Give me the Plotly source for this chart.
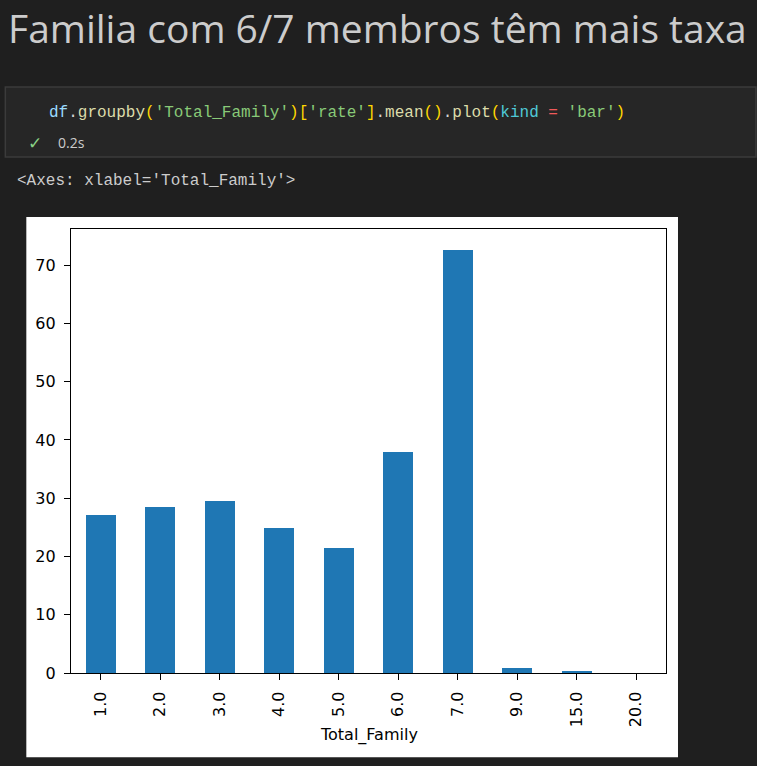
import plotly.graph_objects as go

# ---- data ----
categories = ["1.0", "2.0", "3.0", "4.0", "5.0", "6.0", "7.0", "9.0", "15.0", "20.0"]
rate_mean = [27.1, 28.45, 29.5, 24.95, 21.45, 38.0, 72.6, 0.92, 0.25, 0.0]
y_ticks = [0, 10, 20, 30, 40, 50, 60, 70]
x_label = "Total_Family"
heading = "Familia com 6/7 membros têm mais taxa"
code_parts = [
    ("df", "#9cdcfe"), (".", "#d4d4d4"), ("groupby", "#dcdcaa"), ("(", "#ffd700"),
    ("'Total_Family'", "#89ca78"), (")", "#ffd700"), ("[", "#ffd700"),
    ("'rate'", "#89ca78"), ("]", "#ffd700"), (".", "#d4d4d4"), ("mean", "#dcdcaa"),
    ("()", "#ffd700"), (".", "#d4d4d4"), ("plot", "#dcdcaa"), ("(", "#ffd700"),
    ("kind", "#4fc9d6"), ("&nbsp;=&nbsp;", "#f05a5a"), ("'bar'", "#89ca78"), (")", "#ffd700"),
]
exec_time = "0.2s"
output_repr = "&lt;Axes: xlabel='Total_Family'&gt;"

# ---- layout geometry (pixels) ----
W, H = 757, 766
L, R, T, B = 70.7, 666.0, 229.0, 672.7


def fx(px):
    return (px - L) / (R - L)


def fy(py):
    return (B - py) / (B - T)


PAGE_BG = "#1f1f1f"
TXT = "#cccccc"

fig = go.Figure(
    go.Bar(
        x=categories, y=rate_mean, width=0.5,
        marker=dict(color="#1f77b4", line=dict(width=0)),
        hoverinfo="x+y",
    )
)

axis_common = dict(
    showline=True, linecolor="#000000", linewidth=1.3, mirror=True,
    ticks="outside", ticklen=6, tickwidth=1.3, tickcolor="#000000",
    showgrid=False, zeroline=False,
    tickfont=dict(family="DejaVu Sans", size=16, color="#000000"),
)

fig.update_xaxes(type="category", range=[-0.5, 9.5], tickangle=-90,
                 ticklabelstandoff=5, **axis_common)
fig.update_yaxes(range=[0, 76.2], tickvals=y_ticks, ticklabelstandoff=5, **axis_common)

shapes = [
    # notebook code cell
    dict(type="rect", xref="paper", yref="paper", layer="below",
         x0=fx(5), x1=fx(756), y0=fy(87), y1=fy(157),
         fillcolor="#262626", line=dict(color="#3b3b3b", width=1.5)),
    # white figure canvas
    dict(type="rect", xref="paper", yref="paper", layer="below",
         x0=fx(26), x1=fx(678), y0=fy(217), y1=fy(757),
         fillcolor="#ffffff", line=dict(width=0)),
]

code_html = "".join(f"<span style='color:{c}'>{t}</span>" for t, c in code_parts)

annotations = [
    dict(text=heading, x=fx(6), y=fy(28), xanchor="left", yanchor="middle",
         font=dict(family="Open Sans", size=39, color=TXT)),
    dict(text=code_html, x=fx(47), y=fy(113), xanchor="left", yanchor="middle",
         font=dict(family="Liberation Mono", size=16, color="#d4d4d4")),
    dict(text="✓", x=fx(26), y=fy(143), xanchor="left", yanchor="middle",
         font=dict(family="DejaVu Sans", size=17, color="#89d185")),
    dict(text=exec_time, x=fx(56), y=fy(143), xanchor="left", yanchor="middle",
         font=dict(family="Open Sans", size=14, color=TXT)),
    dict(text=output_repr, x=fx(15), y=fy(181), xanchor="left", yanchor="middle",
         font=dict(family="Liberation Mono", size=16, color=TXT)),
    dict(text=x_label, x=0.5, y=fy(735), xanchor="center", yanchor="middle",
         font=dict(family="DejaVu Sans", size=16, color="#000000")),
]
for a in annotations:
    a.update(xref="paper", yref="paper", showarrow=False)

fig.update_layout(
    width=W, height=H, autosize=False,
    margin=dict(l=L, r=W - R, t=T, b=H - B, pad=0),
    paper_bgcolor=PAGE_BG, plot_bgcolor="#ffffff",
    showlegend=False, bargap=0,
    shapes=shapes, annotations=annotations,
)

fig.write_html(
    "out.html", include_plotlyjs=True, config={"displayModeBar": False},
    post_script="document.body.style.margin='0';document.body.style.overflow='hidden';document.body.style.background='#1f1f1f';",
)
